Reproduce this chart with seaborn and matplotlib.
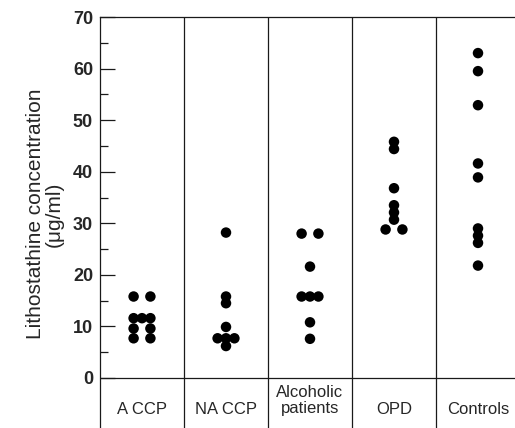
import numpy as np
import pandas as pd
import matplotlib
matplotlib.use("Agg")
import matplotlib.pyplot as plt
import seaborn as sns

# values (ug/ml)
groups = ["A CCP", "NA CCP", "Alcoholic\npatients", "OPD", "Controls"]
a_ccp = [15.8, 15.8, 11.6, 11.6, 11.6, 9.6, 9.6, 7.7, 7.7]
na_ccp = [28.2, 15.8, 14.5, 9.9, 7.7, 7.7, 7.7, 6.2]
alcoholic = [28.0, 28.0, 21.6, 15.8, 15.8, 15.8, 10.8, 7.6]
opd = [45.8, 44.4, 36.8, 33.5, 32.1, 30.7, 28.8, 28.8]
controls = [63.0, 59.5, 52.9, 41.6, 38.9, 29.0, 27.6, 26.2, 21.8]
yticks = list(range(0, 71, 10))

sns.set_style("ticks")
plt.rcParams['font.family'] = ['Liberation Sans', 'DejaVu Sans']

rows = []
for i, vals in enumerate([a_ccp, na_ccp, alcoholic, opd, controls]):
    for v in vals:
        rows.append((i, v))
df = pd.DataFrame(rows, columns=["g", "value"])
# tied values are put side by side, like the original dot plot
k = df.groupby(["g", "value"]).cumcount()
n = df.groupby(["g", "value"])["value"].transform("size")
half = np.where(n > 1, 0.1, 0.0)
df["xpos"] = df["g"] + np.where(n > 1, -half + 2 * half * k / (n - 1).clip(lower=1), 0.0)

fig = plt.figure(figsize=(5.15, 4.28), dpi=100)
ax = fig.add_axes([100 / 515, 0, 415 / 515, 411 / 428])

sns.scatterplot(data=df, x="xpos", y="value", color="black", s=57,
                edgecolor="none", legend=False, ax=ax)

ppu = 361 / 70  # pixels per unit on y
ax.set_xlim(-0.5, -0.5 + 415 / 84)
ax.set_ylim(70 - 411 / ppu, 70)

lc = "#1a1a1a"
for s in ["right", "bottom"]:
    ax.spines[s].set_visible(False)
for s in ["left", "top"]:
    ax.spines[s].set_linewidth(0.9)
    ax.spines[s].set_color(lc)
ax.axhline(0, color=lc, lw=0.9)
for b in np.arange(len(groups) - 1) + 0.5:
    ax.axvline(b, color=lc, lw=0.9)

ax.set_xticks([])
ax.set_yticks(yticks)
ax.set_yticks(np.arange(5, 70, 10), minor=True)
ax.tick_params(axis="y", which="major", direction="in", length=10.8, width=0.9,
               color=lc, labelsize=13, pad=5)
ax.tick_params(axis="y", which="minor", direction="in", length=5.5, width=0.9, color=lc)
for lbl in ax.get_yticklabels():
    lbl.set_fontweight("bold")
ax.set_xlabel("")
ax.set_ylabel("")

ybot = -(416.5 - 378) / ppu
for i, g in enumerate(groups):
    ax.text(i, ybot, g, ha="center", va="bottom", fontsize=12, linespacing=1.1)

fig.text(45 / 515, (428 - 214) / 428, "Lithostathine concentration\n(\u03bcg/ml)",
         rotation=90, ha="center", va="center", multialignment="center",
         fontsize=15, linespacing=1.0)

fig.savefig("out.png", dpi=100)
